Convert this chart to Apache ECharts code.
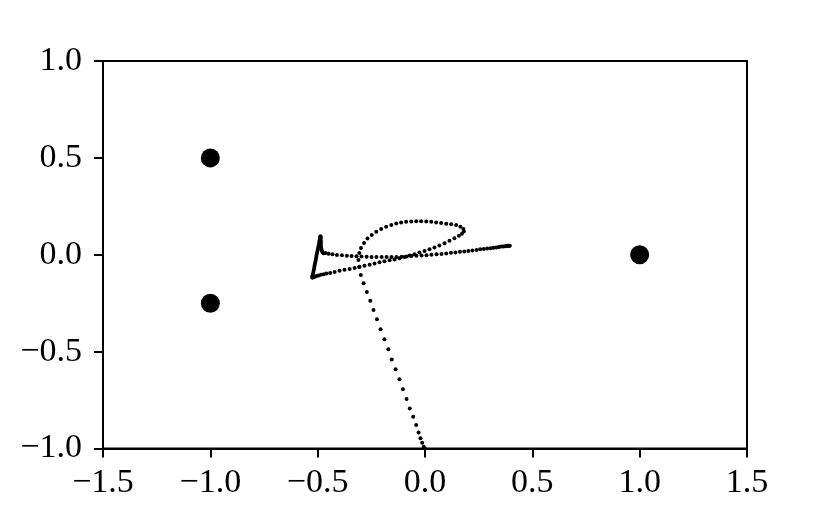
<!DOCTYPE html>
<html>
<head>
<meta charset="utf-8">
<script src="https://cdn.jsdelivr.net/npm/echarts@6/dist/echarts.min.js"></script>
<style>
html,body{margin:0;padding:0;background:#fff;}
#chart{width:830px;height:513px;}
</style>
</head>
<body>
<div id="chart"></div>
<script>
// Fixed bodies (large dots)
var bodyX = [-1, -1, 1];
var bodyY = [0.5, -0.25, 0];

// Axis ticks
var xTicks = [-1.5, -1.0, -0.5, 0.0, 0.5, 1.0, 1.5];
var yTicks = [-1.0, -0.5, 0.0, 0.5, 1.0];

// Trajectory, in order of travel
var riseLeg = [[0,-1],[-0.006,-0.991],[-0.013,-0.970],[-0.021,-0.947],[-0.030,-0.918],[-0.041,-0.879],[-0.055,-0.836],[-0.071,-0.793],[-0.086,-0.745],[-0.103,-0.694],[-0.119,-0.643],[-0.137,-0.591],[-0.155,-0.540],[-0.171,-0.488],[-0.189,-0.436],[-0.207,-0.385],[-0.224,-0.333],[-0.240,-0.285],[-0.255,-0.237],[-0.271,-0.192],[-0.286,-0.147],[-0.299,-0.105],[-0.307,-0.063],[-0.310,-0.027],[-0.306,0.009]];

var loopLeg = [[-0.298,0.035],[-0.284,0.061],[-0.268,0.084],[-0.248,0.102],[-0.227,0.119],[-0.204,0.133],[-0.181,0.145],[-0.157,0.154],[-0.134,0.161],[-0.111,0.166],[-0.088,0.170],[-0.064,0.172],[-0.041,0.173],[-0.018,0.173],[0.006,0.172],[0.029,0.170],[0.052,0.167],[0.075,0.164],[0.099,0.160],[0.122,0.157],[0.145,0.153],[0.165,0.145],[0.179,0.133],[0.181,0.120],[0.172,0.108],[0.158,0.098]];

var returnLeg = [[0.137,0.085],[0.114,0.072],[0.091,0.060],[0.067,0.048],[0.044,0.037],[0.021,0.028],[-0.002,0.019],[-0.026,0.011],[-0.049,0.003],[-0.072,-0.004],[-0.095,-0.012],[-0.119,-0.018],[-0.142,-0.024],[-0.165,-0.029],[-0.189,-0.034],[-0.212,-0.039],[-0.235,-0.045],[-0.258,-0.051],[-0.282,-0.057],[-0.305,-0.062],[-0.328,-0.068],[-0.351,-0.073],[-0.375,-0.078],[-0.398,-0.083],[-0.421,-0.089],[-0.442,-0.094],[-0.459,-0.097],[-0.472,-0.100],[-0.485,-0.103],[-0.496,-0.107],[-0.505,-0.110],[-0.513,-0.113],[-0.519,-0.115],[-0.523,-0.117],[-0.525,-0.117]];

var spikeLeg = [[-0.525,-0.110],[-0.522,-0.099],[-0.520,-0.089],[-0.518,-0.079],[-0.516,-0.068],[-0.515,-0.058],[-0.513,-0.048],[-0.511,-0.037],[-0.509,-0.027],[-0.507,-0.017],[-0.506,-0.006],[-0.504,0.004],[-0.502,0.014],[-0.500,0.025],[-0.498,0.035],[-0.496,0.045],[-0.494,0.056],[-0.492,0.066],[-0.491,0.074],[-0.490,0.081],[-0.489,0.087],[-0.488,0.093],[-0.487,0.095],[-0.486,0.089],[-0.486,0.081],[-0.485,0.071],[-0.485,0.061],[-0.485,0.050],[-0.484,0.040],[-0.483,0.030],[-0.481,0.022],[-0.478,0.014],[-0.473,0.008]];

var tailLeg = [[-0.463,0.009],[-0.449,0.005],[-0.431,0.002],[-0.410,-0.001],[-0.387,-0.003],[-0.364,-0.005],[-0.342,-0.006],[-0.319,-0.008],[-0.296,-0.009],[-0.272,-0.010],[-0.249,-0.011],[-0.226,-0.011],[-0.202,-0.012],[-0.179,-0.012],[-0.156,-0.011],[-0.133,-0.011],[-0.109,-0.010],[-0.086,-0.009],[-0.063,-0.007],[-0.040,-0.005],[-0.016,-0.004],[0.007,-0.002],[0.030,0.000],[0.054,0.002],[0.077,0.004],[0.099,0.007],[0.121,0.010],[0.142,0.012],[0.163,0.015],[0.183,0.017],[0.202,0.020],[0.221,0.022],[0.240,0.025],[0.257,0.028],[0.274,0.030],[0.290,0.032],[0.305,0.034],[0.319,0.036],[0.332,0.038],[0.344,0.040],[0.354,0.042],[0.364,0.043],[0.372,0.044],[0.379,0.045],[0.385,0.046],[0.389,0.046],[0.392,0.046],[0.395,0.046]];

var trajectory = riseLeg.concat(loopLeg, returnLeg, spikeLeg, tailLeg);
var bodies = bodyX.map(function (x, i) { return [x, bodyY[i]]; });

function fmt(v) {
  var s = Math.abs(v).toFixed(1);
  return (v < -1e-9 ? '\u2212' : '') + s;
}

var FONT = '"Liberation Serif", "DejaVu Serif", serif';
var chart = echarts.init(document.getElementById('chart'), null, {renderer: 'canvas'});
chart.setOption({
  animation: false,
  backgroundColor: '#ffffff',
  grid: {
    left: 103, right: 83, top: 61, bottom: 64.5,
    show: true, borderColor: '#000', borderWidth: 2, backgroundColor: 'transparent'
  },
  xAxis: {
    type: 'value', min: xTicks[0], max: xTicks[xTicks.length - 1], interval: 0.5,
    axisLine: {show: true, onZero: false, lineStyle: {color: '#000', width: 2}},
    axisTick: {show: true, inside: false, length: 9, lineStyle: {color: '#000', width: 2}},
    splitLine: {show: false},
    axisLabel: {color: '#000', fontFamily: FONT, fontSize: 34, margin: 18, formatter: fmt, showMinLabel: true, showMaxLabel: true}
  },
  yAxis: {
    type: 'value', min: yTicks[0], max: yTicks[yTicks.length - 1], interval: 0.5,
    axisLine: {show: true, onZero: false, lineStyle: {color: '#000', width: 2}},
    axisTick: {show: true, inside: false, length: 9, lineStyle: {color: '#000', width: 2}},
    splitLine: {show: false},
    axisLabel: {color: '#000', fontFamily: FONT, fontSize: 34, margin: 21, formatter: fmt, showMinLabel: true, showMaxLabel: true}
  },
  series: [
    {
      type: 'scatter', data: trajectory, symbol: 'circle', symbolSize: 4,
      itemStyle: {color: '#000', opacity: 1}, clip: false, silent: true
    },
    {
      type: 'scatter', data: bodies, symbol: 'circle', symbolSize: 19,
      itemStyle: {color: '#000', opacity: 1}, silent: true
    }
  ]
});
</script>
</body>
</html>
